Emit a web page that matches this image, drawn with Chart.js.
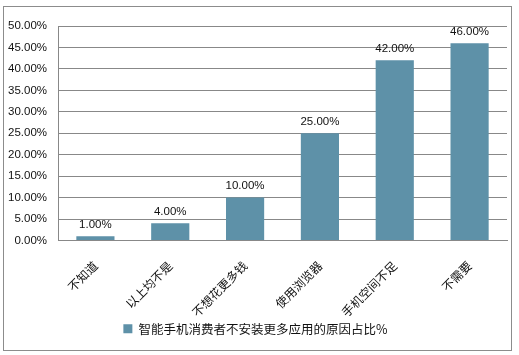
<!DOCTYPE html>
<html>
<head>
<meta charset="utf-8">
<script src="https://cdn.jsdelivr.net/npm/chart.js@4"></script>
<style>
  html, body { margin: 0; padding: 0; background: #fff; }
  #wrap { width: 519px; height: 355px; position: relative; }
</style>
</head>
<body>
<div id="wrap"><canvas id="chart" width="519" height="355"></canvas></div>
<script>
// --- chart data ---
const categories = ['不知道', '以上均不是', '不想花更多钱', '使用浏览器', '手机空间不足', '不需要'];
const shares = [1, 4, 10, 25, 42, 46];
const seriesName = '智能手机消费者不安装更多应用的原因占比%';
const yMax = 50;
const yStep = 5;

const numFont = '"Liberation Sans", Arial, sans-serif';
const cjkFont = '"Noto Sans CJK SC", sans-serif';

// outer frame like the spreadsheet chart border
const framePlugin = {
    id: 'frame',
    beforeDraw(chart) {
        const ctx = chart.ctx;
        ctx.save();
        ctx.fillStyle = '#fff';
        ctx.fillRect(0, 0, chart.width, chart.height);
        ctx.strokeStyle = '#8c8c8c';
        ctx.lineWidth = 1;
        ctx.strokeRect(3.5, 6.5, 508, 344);
        ctx.restore();
    }
};

// value labels above each bar + slanted category labels under the axis
const labelsPlugin = {
    id: 'labels',
    afterDatasetsDraw(chart) {
        const ctx = chart.ctx;
        const meta = chart.getDatasetMeta(0);
        ctx.save();
        ctx.font = '11.5px ' + numFont;
        ctx.fillStyle = '#111';
        ctx.textAlign = 'center';
        ctx.textBaseline = 'bottom';
        meta.data.forEach(function(bar, i) {
            ctx.fillText(shares[i].toFixed(2) + '%', bar.x, bar.y - 6);
        });
        ctx.restore();
    },
    afterDraw(chart) {
        const ctx = chart.ctx;
        const xs = chart.scales.x;
        ctx.save();
        ctx.font = '12px ' + cjkFont;
        ctx.fillStyle = '#111';
        ctx.textAlign = 'right';
        ctx.textBaseline = 'middle';
        categories.forEach(function(name, i) {
            ctx.save();
            ctx.translate(xs.getPixelForTick(i), xs.top + 23);
            ctx.rotate(-Math.PI / 4);
            ctx.fillText(name, 0, 0);
            ctx.restore();
        });
        ctx.restore();
    }
};

new Chart(document.getElementById('chart').getContext('2d'), {
    type: 'bar',
    data: {
        labels: categories,
        datasets: [{
            label: seriesName,
            data: shares,
            backgroundColor: '#5e91a8',
            barPercentage: 0.51,
            categoryPercentage: 1.0
        }]
    },
    options: {
        responsive: false,
        animation: false,
        layout: { padding: { left: 4, right: 12, top: 26, bottom: 10 } },
        scales: {
            x: {
                grid: { display: false },
                border: { color: '#888', width: 1 },
                ticks: { display: false },
                afterFit: function(scale) { scale.height = 74; }
            },
            y: {
                min: 0,
                max: yMax,
                ticks: {
                    stepSize: yStep,
                    color: '#111',
                    font: { family: numFont, size: 11.5 },
                    padding: 11,
                    callback: function(value) { return value.toFixed(2) + '%'; }
                },
                grid: { color: '#888', drawTicks: false },
                border: { color: '#888', width: 1 },
                afterFit: function(scale) { scale.width = 54; }
            }
        },
        plugins: {
            legend: {
                position: 'bottom',
                labels: {
                    color: '#111',
                    font: { family: cjkFont, size: 12.5 },
                    boxWidth: 9,
                    boxHeight: 9,
                    padding: 8
                }
            },
            tooltip: { enabled: false }
        }
    },
    plugins: [framePlugin, labelsPlugin]
});
</script>
</body>
</html>
